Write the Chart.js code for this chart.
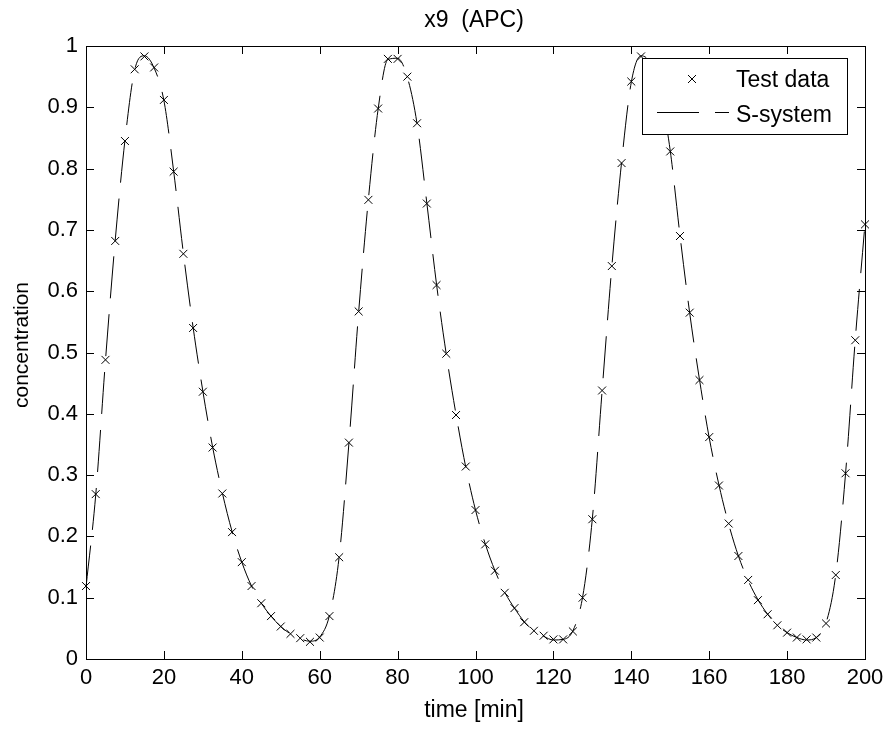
<!DOCTYPE html>
<html><head><meta charset="utf-8">
<script src="https://cdn.jsdelivr.net/npm/chart.js@4/dist/chart.umd.min.js"></script>
<style>html,body{margin:0;padding:0;background:#fff;}#wrap{width:890px;height:729px;}</style>
</head><body><div id="wrap"><canvas id="c" width="890" height="729"></canvas></div>
<script>
const chartTitle = 'x9  (APC)';
const xAxisTitle = 'time [min]';
const yAxisTitle = 'concentration';
const seriesNames = ['Test data', 'S-system'];

const time = [0, 2.5, 5, 7.5, 10, 12.5, 15, 17.5, 20, 22.5, 25, 27.5, 30, 32.5, 35, 37.5, 40, 42.5, 45, 47.5,
  50, 52.5, 55, 57.5, 60, 62.5, 65, 67.5, 70, 72.5, 75, 77.5, 80, 82.5, 85, 87.5, 90, 92.5, 95, 97.5,
  100, 102.5, 105, 107.5, 110, 112.5, 115, 117.5, 120, 122.5, 125, 127.5, 130, 132.5, 135, 137.5, 140, 142.5, 145, 147.5,
  150, 152.5, 155, 157.5, 160, 162.5, 165, 167.5, 170, 172.5, 175, 177.5, 180, 182.5, 185, 187.5, 190, 192.5, 195, 197.5, 200];

const testData = [0.119, 0.269, 0.488, 0.682, 0.845, 0.962, 0.983, 0.965, 0.912, 0.795, 0.661, 0.540, 0.436, 0.345, 0.270, 0.207, 0.158, 0.119, 0.091, 0.070,
  0.053, 0.041, 0.034, 0.028, 0.035, 0.070, 0.166, 0.353, 0.567, 0.749, 0.898, 0.979, 0.979, 0.950, 0.874, 0.743, 0.610, 0.498, 0.398, 0.314,
  0.243, 0.187, 0.144, 0.108, 0.083, 0.060, 0.046, 0.038, 0.032, 0.032, 0.045, 0.100, 0.228, 0.438, 0.641, 0.809, 0.942, 0.983, 0.970, 0.920,
  0.828, 0.690, 0.565, 0.455, 0.362, 0.283, 0.221, 0.168, 0.129, 0.096, 0.073, 0.055, 0.043, 0.035, 0.032, 0.035, 0.058, 0.137, 0.303, 0.520, 0.709];

const sSystem = [0.117, 0.268, 0.487, 0.683, 0.846, 0.961, 0.984, 0.964, 0.911, 0.796, 0.662, 0.541, 0.437, 0.346, 0.271, 0.208, 0.158, 0.119, 0.091, 0.070,
  0.053, 0.041, 0.033, 0.029, 0.036, 0.071, 0.167, 0.352, 0.566, 0.750, 0.897, 0.978, 0.980, 0.949, 0.873, 0.744, 0.611, 0.497, 0.399, 0.313,
  0.243, 0.188, 0.144, 0.109, 0.083, 0.061, 0.046, 0.037, 0.031, 0.032, 0.046, 0.101, 0.229, 0.437, 0.640, 0.810, 0.941, 0.984, 0.971, 0.921,
  0.829, 0.691, 0.564, 0.456, 0.361, 0.284, 0.220, 0.168, 0.128, 0.097, 0.073, 0.055, 0.043, 0.035, 0.031, 0.035, 0.059, 0.138, 0.302, 0.521, 0.710];

const xTicks = [0, 20, 40, 60, 80, 100, 120, 140, 160, 180, 200];
const xTickLabels = ['0', '20', '40', '60', '80', '100', '120', '140', '160', '180', '200'];
const yTicks = [0, 0.1, 0.2, 0.3, 0.4, 0.5, 0.6, 0.7, 0.8, 0.9, 1];
const yTickLabels = ['0', '0.1', '0.2', '0.3', '0.4', '0.5', '0.6', '0.7', '0.8', '0.9', '1'];

const FONT = "'Liberation Sans', Arial, Helvetica, sans-serif";
const FS_TICK = 22;
const FS_TEXT = 23;
const FS_YTITLE = 21;

const framePlugin = {
  id: 'frame',
  afterDatasetsDraw(chart) {
    const ctx = chart.ctx, a = chart.chartArea;
    const xs = chart.scales.x, ys = chart.scales.y;
    ctx.save();
    ctx.strokeStyle = '#000';
    ctx.lineWidth = 1;
    ctx.setLineDash([]);
    ctx.strokeRect(Math.round(a.left) + 0.5, Math.round(a.top) + 0.5,
      Math.round(a.right) - Math.round(a.left), Math.round(a.bottom) - Math.round(a.top));
    ctx.beginPath();
    xTicks.forEach(v => {
      const px = Math.round(xs.getPixelForValue(v)) + 0.5;
      ctx.moveTo(px, a.bottom); ctx.lineTo(px, a.bottom - 8);
      ctx.moveTo(px, a.top); ctx.lineTo(px, a.top + 8);
    });
    yTicks.forEach(v => {
      const py = Math.round(ys.getPixelForValue(v)) + 0.5;
      ctx.moveTo(a.left, py); ctx.lineTo(a.left + 8, py);
      ctx.moveTo(a.right, py); ctx.lineTo(a.right - 8, py);
    });
    ctx.stroke();

    // legend
    const lx = 642.5, ly = 58.5, lw = 205, lh = 76;
    ctx.fillStyle = '#fff';
    ctx.fillRect(lx, ly, lw, lh);
    ctx.strokeRect(lx, ly, lw, lh);
    const ds = chart.data.datasets;
    const mx = 692, my = 79, mr = 4;
    ctx.beginPath();
    ctx.moveTo(mx - mr, my - mr); ctx.lineTo(mx + mr, my + mr);
    ctx.moveTo(mx - mr, my + mr); ctx.lineTo(mx + mr, my - mr);
    ctx.stroke();
    ctx.setLineDash(ds[1].borderDash);
    ctx.beginPath();
    ctx.moveTo(657, 112.5); ctx.lineTo(729, 112.5);
    ctx.stroke();
    ctx.setLineDash([]);
    ctx.fillStyle = '#000';
    ctx.font = FS_TEXT + 'px ' + FONT;
    ctx.textAlign = 'left';
    ctx.textBaseline = 'alphabetic';
    ctx.fillText(ds[0].label, 736, 86.5);
    ctx.fillText(ds[1].label, 736, 121.5);

    ctx.textAlign = 'center';
    ctx.fillText(chartTitle, 474, 27);
    ctx.fillText(xAxisTitle, 474, 717);
    ctx.font = FS_YTITLE + 'px ' + FONT;
    ctx.translate(27.5, 345);
    ctx.rotate(-Math.PI / 2);
    ctx.fillText(yAxisTitle, 0, 0);
    ctx.restore();
  }
};

new Chart(document.getElementById('c'), {
  type: 'line',
  data: {
    datasets: [
      {
        label: seriesNames[0],
        data: time.map((t, i) => ({ x: t, y: testData[i] })),
        showLine: false,
        pointStyle: 'crossRot',
        pointRadius: 5.6,
        pointBorderWidth: 1,
        pointBorderColor: '#000',
        pointBackgroundColor: '#000',
        borderColor: '#000',
        clip: false,
        order: 0
      },
      {
        label: seriesNames[1],
        data: time.map((t, i) => ({ x: t, y: sSystem[i] })),
        borderColor: '#000',
        borderWidth: 1,
        borderDash: [42, 16],
        pointRadius: 0,
        fill: false,
        cubicInterpolationMode: 'monotone',
        clip: false,
        order: 1
      }
    ]
  },
  options: {
    responsive: false,
    animation: false,
    devicePixelRatio: 1,
    layout: { padding: { top: 46, right: 25, left: 0, bottom: 0 } },
    plugins: { legend: { display: false }, title: { display: false }, tooltip: { enabled: false } },
    scales: {
      x: {
        type: 'linear', min: 0, max: 200,
        afterBuildTicks: s => { s.ticks = xTicks.map(v => ({ value: v })); },
        afterFit: s => { s.height = 70; },
        grid: { display: false, drawTicks: false },
        border: { display: false },
        ticks: {
          padding: 6, maxRotation: 0, autoSkip: false, color: '#000',
          font: { family: FONT, size: FS_TICK },
          callback: (v, i) => xTickLabels[i]
        }
      },
      y: {
        type: 'linear', min: 0, max: 1,
        afterBuildTicks: s => { s.ticks = yTicks.map(v => ({ value: v })); },
        afterFit: s => { s.width = 86; },
        grid: { display: false, drawTicks: false },
        border: { display: false },
        ticks: {
          padding: 8, autoSkip: false, color: '#000',
          font: { family: FONT, size: FS_TICK },
          callback: (v, i) => yTickLabels[i]
        }
      }
    }
  },
  plugins: [framePlugin]
});
</script>
</body></html>
